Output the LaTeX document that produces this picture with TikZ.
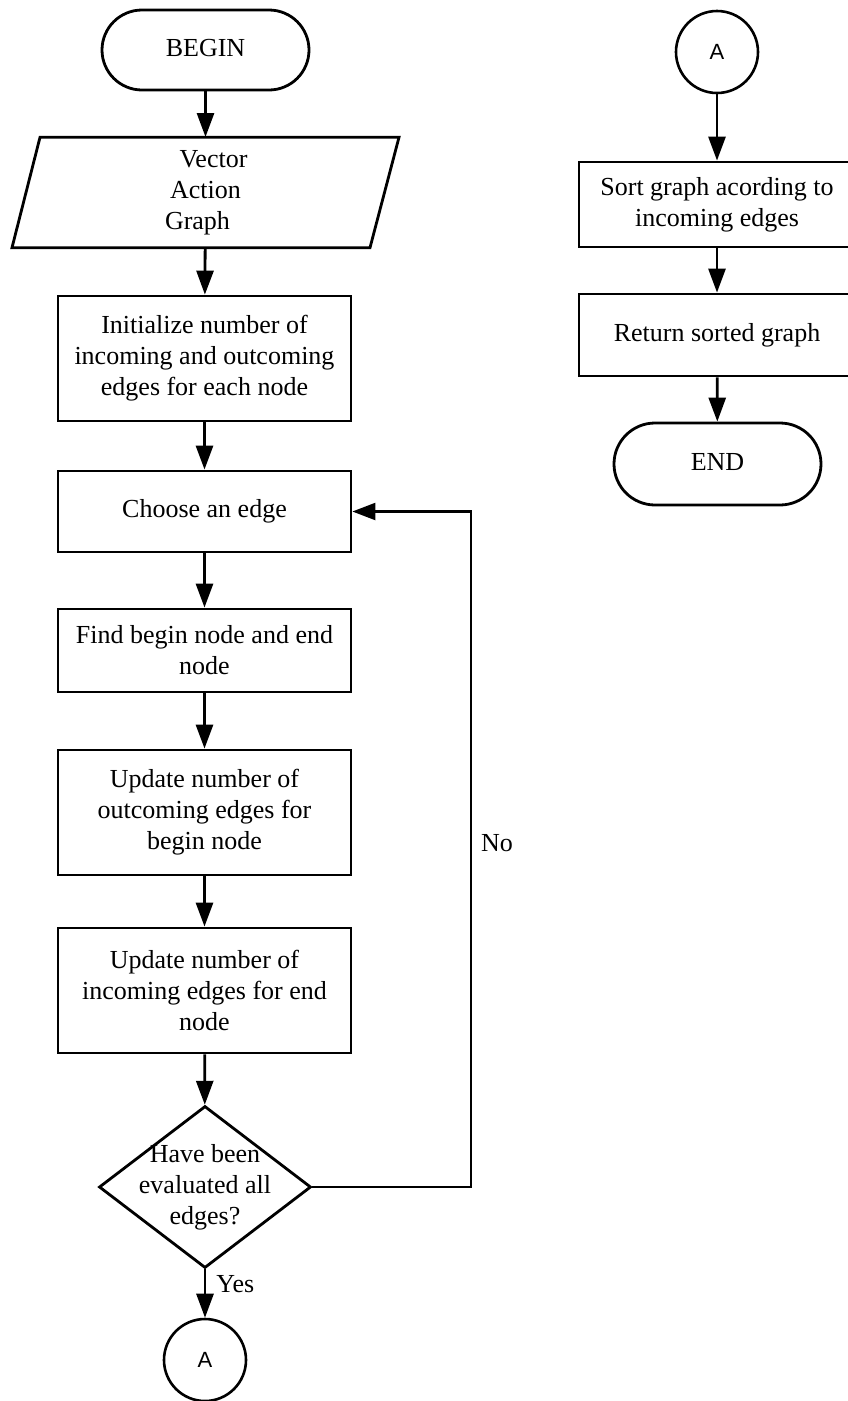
\documentclass[tikz,border=0pt]{standalone}
\usepackage{fontspec}
\setmainfont{Liberation Serif}
\newfontfamily\connfont{Liberation Sans}
\usetikzlibrary{arrows.meta,shapes.misc,shapes.geometric}

\begin{document}
\begin{tikzpicture}[x=1pt,y=-1pt,
  every node/.style={font=\fontsize{26}{31}\selectfont, align=center, inner sep=0pt},
  procbox/.style={draw, line width=2.8pt, rectangle, minimum width=293pt},
  termbox/.style={draw, line width=2.8pt, rounded rectangle, minimum width=207pt},
  connector/.style={draw, line width=2.6pt, circle, minimum size=82pt, font=\connfont\fontsize{22}{26}\selectfont},
  flow/.style={line width=2.8pt, -{Triangle[length=24pt,width=17pt]}},
  backflow/.style={line width=2.2pt, -{Triangle[length=23pt,width=17pt]}},
  shapeline/.style={line width=2.8pt, line join=miter},
  lbl/.style={font=\fontsize{26}{31}\selectfont}
]
\useasboundingbox (0,0) rectangle (848,1401);

% left column
\node[termbox, minimum height=80pt] (begin) at (205.5,50) {\raisebox{4pt}{BEGIN}};

% input/output parallelogram
\node[rectangle, minimum width=359pt, minimum height=110pt] (input) at (205.5,192.5)
  {\hspace*{16pt}Vector\\Action\\Graph\hspace*{16pt}};
\draw[shapeline] ([xshift=-165.5pt]input.north) -- ([xshift=193.5pt]input.north)
  -- ([xshift=164.5pt]input.south) -- ([xshift=-193.5pt]input.south) -- cycle;

\node[procbox, minimum height=125pt] (init) at (204.5,358.5)
  {Initialize number of\\incoming and outcoming\\edges for each node};
\node[procbox, minimum height=81pt] (choose) at (204.5,511.5) {Choose an edge};
\node[procbox, minimum height=83pt] (find) at (204.5,650.5) {Find begin node and end\\node};
\node[procbox, minimum height=125pt] (updout) at (204.5,812.5)
  {Update number of\\outcoming edges for\\begin node};
\node[procbox, minimum height=125pt] (updin) at (204.5,990.5)
  {Update number of\\incoming edges for end\\node};

\node[draw, line width=2.8pt, diamond, minimum width=212pt, minimum height=162pt] (check) at (205,1187) {};
\node at (check) {Have been\\evaluated all\\edges?};

\node[connector] (aout) at (205,1360) {A};

% right column
\node[connector] (ain) at (717,52) {A};
\node[procbox, minimum width=276pt, minimum height=85pt] (sort) at (717,204.5)
  {Sort graph acording to\\incoming edges};
\node[procbox, minimum width=276pt, minimum height=82pt] (ret) at (717,335) {Return sorted graph};
\node[termbox, minimum height=82pt] (end) at (717.5,464) {\raisebox{4pt}{END}};

% connectors
\draw[flow] (begin) -- (input.south |- 0,137);
\draw[flow] (input) -- (init);
\draw[flow] (init) -- (choose);
\draw[flow] (choose) -- (find);
\draw[flow] (find) -- (updout);
\draw[flow] (updout) -- (updin);
\draw[flow] (updin) -- (check);
\draw[flow] (check) -- (aout) node[lbl, pos=0.3, right=10pt] {Yes};

\coordinate (loopcorner) at (471,511.5);
\draw[backflow] (check.east) -| (loopcorner) -- (choose.east);
\node[lbl] (nolabel) at (497,843) {No};

\draw[flow] (ain) -- (sort);
\draw[flow] (sort) -- (ret);
\draw[flow] (ret) -- (end);
\end{tikzpicture}
\end{document}
